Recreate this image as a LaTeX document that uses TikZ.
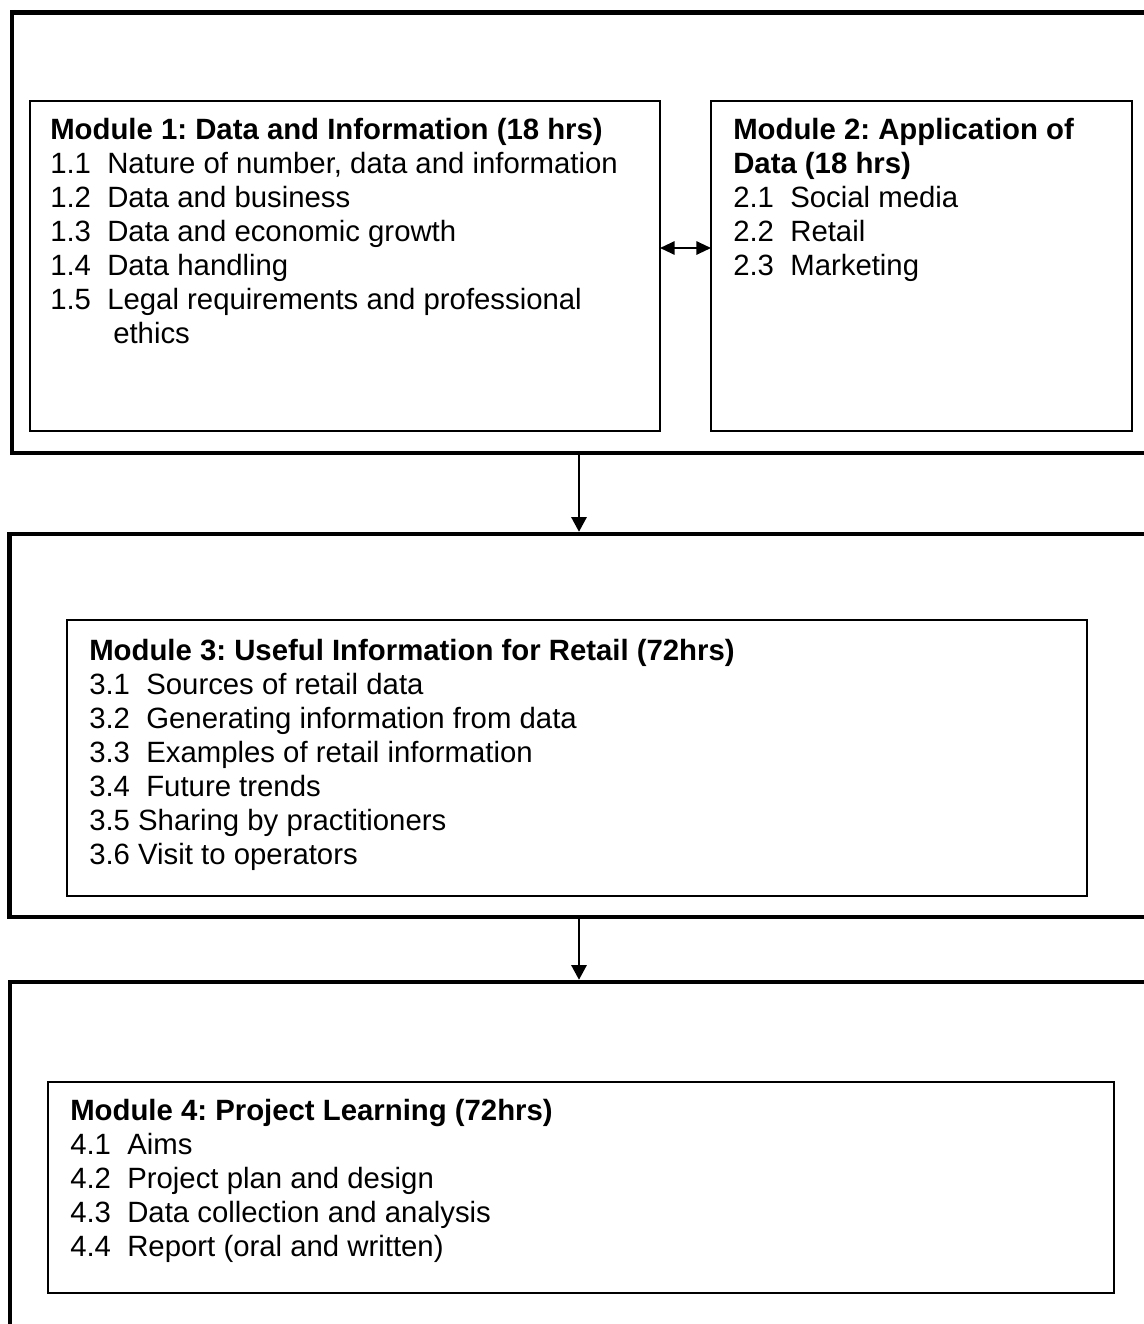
\documentclass[tikz,border=0pt]{standalone}
\usepackage{fontspec}
\setmainfont{Liberation Sans}
\usetikzlibrary{arrows.meta}
\frenchspacing
\tikzset{
  outerbox/.style={draw, line width=3.4pt, rectangle, inner sep=0pt},
  innerbox/.style={draw, line width=1.2pt, rectangle, inner sep=0pt, outer sep=0pt},
  txt/.style={anchor=base west, inner sep=0pt, font=\fontsize{22}{25.5}\selectfont},
  flow/.style={line width=1.5pt, -{Triangle[length=11pt,width=11.5pt]}},
  both/.style={line width=1.5pt, {Triangle[length=11pt,width=10pt]}-{Triangle[length=11pt,width=10pt]}}
}
\begin{document}
\frenchspacing
\begin{tikzpicture}[x=0.75pt,y=-0.75pt]
\useasboundingbox (0,0) rectangle (1143,1324);
% outer boxes (extend beyond right/bottom edges)
\node[outerbox, minimum width=1188*0.75pt, minimum height=440.5*0.75pt] (o1) at (606,232.75) {};
\node[outerbox, minimum width=1190*0.75pt, minimum height=383*0.75pt] (o2) at (604.5,725.5) {};
\node[outerbox, minimum width=1190*0.75pt, minimum height=420*0.75pt] (o3) at (605,1192) {};
% inner boxes
\node[innerbox, minimum width=630*0.75pt, minimum height=330*0.75pt] (m1) at (345,266) {};
\node[innerbox, minimum width=421*0.75pt, minimum height=330*0.75pt] (m2) at (921.5,266) {};
\node[innerbox, minimum width=1020*0.75pt, minimum height=276*0.75pt] (m3) at (577,758) {};
\node[innerbox, minimum width=1066*0.75pt, minimum height=211*0.75pt] (m4) at (581,1187.5) {};
% connectors
\coordinate (ax) at (579,0);
\coordinate (ay) at (0,248);
\draw[both] (m1.east |- ay) -- (m2.west |- ay);
\draw[flow] ([yshift=1.5pt]o1.south -| ax) -- (o2.north -| ax);
\draw[flow] ([yshift=1.5pt]o2.south -| ax) -- (o3.north -| ax);
% Module 1 text
\node[txt] (t1a) at (50,139.5) {\textbf{Module 1: Data and Information (18 hrs)}};
\node[txt] (t1b) at (50,173.5) {1.1\ \ Nature of number, data and information};
\node[txt] (t1c) at (50,207.5) {1.2\ \ Data and business};
\node[txt] (t1d) at (50,241.5) {1.3\ \ Data and economic growth};
\node[txt] (t1e) at (50,275.5) {1.4\ \ Data handling};
\node[txt] (t1f) at (50,309.5) {1.5\ \ Legal requirements and professional};
\node[txt] (t1g) at (113,343.5) {ethics};
% Module 2 text
\node[txt] (t2a) at (733,139.5) {\textbf{Module 2: Application of}};
\node[txt] (t2b) at (733,173.5) {\textbf{Data (18 hrs)}};
\node[txt] (t2c) at (733,207.5) {2.1\ \ Social media};
\node[txt] (t2d) at (733,241.5) {2.2\ \ Retail};
\node[txt] (t2e) at (733,275.5) {2.3\ \ Marketing};
% Module 3 text
\node[txt] (t3a) at (89,660.5) {\textbf{Module 3: Useful Information for Retail (72hrs)}};
\node[txt] (t3b) at (89,694.5) {3.1\ \ Sources of retail data};
\node[txt] (t3c) at (89,728.5) {3.2\ \ Generating information from data};
\node[txt] (t3d) at (89,762.5) {3.3\ \ Examples of retail information};
\node[txt] (t3e) at (89,796.5) {3.4\ \ Future trends};
\node[txt] (t3f) at (89,830.5) {3.5 Sharing by practitioners};
\node[txt] (t3g) at (89,864.5) {3.6 Visit to operators};
% Module 4 text
\node[txt] (t4a) at (70,1120.5) {\textbf{Module 4: Project Learning (72hrs)}};
\node[txt] (t4b) at (70,1154.5) {4.1\ \ Aims};
\node[txt] (t4c) at (70,1188.5) {4.2\ \ Project plan and design};
\node[txt] (t4d) at (70,1222.5) {4.3\ \ Data collection and analysis};
\node[txt] (t4e) at (70,1256.5) {4.4\ \ Report (oral and written)};
\end{tikzpicture}
\end{document}
